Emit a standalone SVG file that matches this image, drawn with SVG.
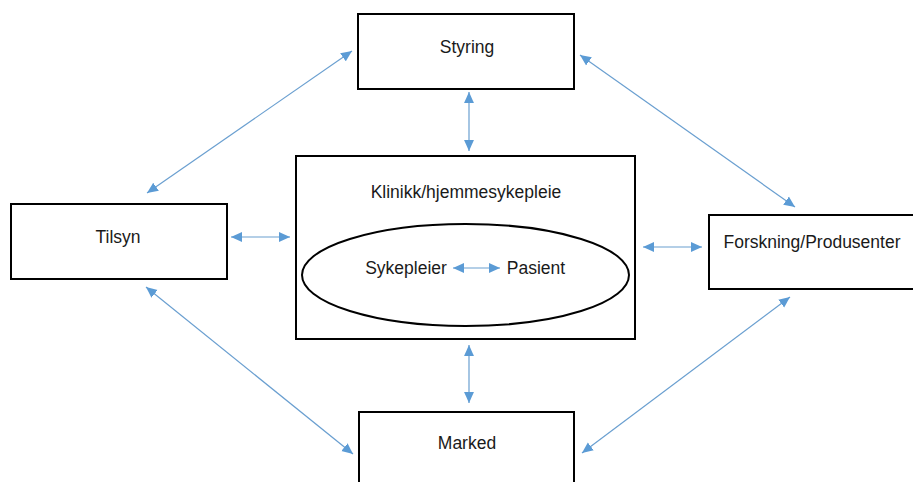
<svg xmlns="http://www.w3.org/2000/svg" width="913" height="482" viewBox="0 0 913 482">
<defs>
<style>
.box{fill:#fff;stroke:#000;stroke-width:2}
.lbl{font-family:"Liberation Sans",Arial,sans-serif;font-size:17.5px;fill:#1a1a1a;text-anchor:middle;dominant-baseline:central}
.con{stroke:#6a9fd0;stroke-width:1.2;fill:none;marker-start:url(#ah);marker-end:url(#ah)}
</style>
<marker id="ah" viewBox="0 0 10 10" refX="10" refY="5" markerWidth="11" markerHeight="11" markerUnits="userSpaceOnUse" orient="auto-start-reverse">
<path d="M0,0.5 L10,5 L0,9.5 Z" fill="#5b9bd5"/>
</marker>
</defs>
<rect width="913" height="482" fill="#fff"/>
<g id="styring"><rect class="box" x="358" y="14" width="216" height="75"/><text class="lbl" x="467" y="47">Styring</text></g>
<g id="tilsyn"><rect class="box" x="11" y="204" width="216" height="75"/><text class="lbl" x="118" y="237">Tilsyn</text></g>
<g id="klinikk"><rect class="box" x="296" y="156" width="339" height="183"/><text class="lbl" x="466" y="192">Klinikk/hjemmesykepleie</text>
<ellipse cx="465.5" cy="275" rx="163.5" ry="51" fill="none" stroke="#000" stroke-width="2"/>
<text class="lbl" x="406" y="268">Sykepleier</text><text class="lbl" x="536" y="268">Pasient</text></g>
<g id="forskning"><rect class="box" x="709" y="215" width="215" height="74"/><text class="lbl" x="812" y="242">Forskning/Produsenter</text></g>
<g id="marked"><rect class="box" x="359" y="412" width="215" height="80"/><text class="lbl" x="467" y="443">Marked</text></g>
<g id="connectors">
<line class="con" x1="453" y1="268" x2="500" y2="268"/>
<line class="con" x1="469" y1="92" x2="469" y2="151"/>
<line class="con" x1="469" y1="345" x2="469" y2="403"/>
<line class="con" x1="231" y1="237" x2="290" y2="237"/>
<line class="con" x1="643" y1="247" x2="702" y2="247"/>
<line class="con" x1="352" y1="51" x2="147" y2="193"/>
<line class="con" x1="580" y1="55" x2="795" y2="207"/>
<line class="con" x1="146" y1="287" x2="353" y2="454"/>
<line class="con" x1="790" y1="297" x2="582" y2="453"/>
</g>
</svg>
